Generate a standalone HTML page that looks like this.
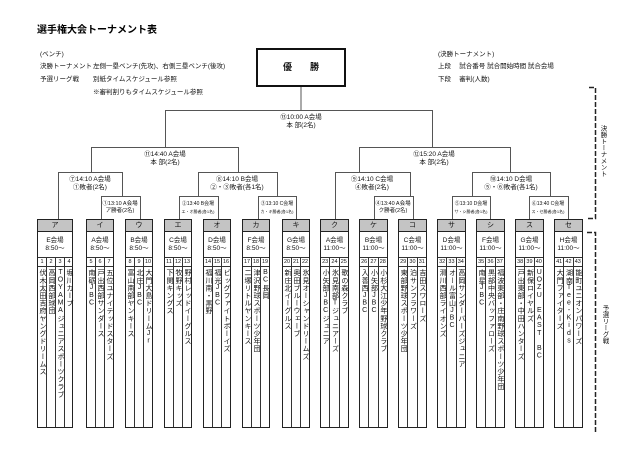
<!DOCTYPE html>
<html><head><meta charset="utf-8">
<style>
*{margin:0;padding:0;box-sizing:border-box}
body{width:640px;height:453px;background:#fff;position:relative;overflow:hidden;font-family:"Liberation Sans","Noto Sans CJK JP",sans-serif;color:#111}
.t{position:absolute;white-space:nowrap;line-height:1}
.lbl{position:absolute;text-align:center;line-height:8px;font-size:6.5px;white-space:nowrap;transform:translateX(-50%)}
.sl{position:absolute;text-align:center;white-space:nowrap;transform:translateX(-50%);line-height:7px}
.g{position:absolute;top:219px;height:209px;border:1.5px solid #222;background:#fff;display:flex;flex-direction:column}
.h{height:12px;background:#c4c4c4;border-bottom:1.5px solid #222;text-align:center;font-size:7px;line-height:11px}
.v{height:26px;border-bottom:1px solid #333;text-align:center;font-size:6.5px;line-height:8px;padding-top:5px}
.cols{flex:1;display:flex}
.c{flex:1;border-right:1px solid #333;display:flex;flex-direction:column;align-items:center}
.c:last-child{border-right:none}
.n{height:9px;width:100%;border-bottom:1px solid #333;text-align:center;font-size:5.5px;line-height:9px}
.nm{writing-mode:vertical-rl;text-orientation:upright;font-size:7px;line-height:8px;letter-spacing:0.6px;padding-top:2px}
</style></head><body>
<div class="t" style="left:37px;top:26px;font-size:10px;font-weight:bold;color:#000">選手権大会トーナメント表</div>
<div class="t" style="left:40px;top:52px;font-size:6.5px">(ベンチ)</div>
<div class="t" style="left:40px;top:64px;font-size:6.5px">決勝トーナメント</div>
<div class="t" style="left:93px;top:64px;font-size:6.5px">左側一塁ベンチ(先攻)、右側三塁ベンチ(後攻)</div>
<div class="t" style="left:40px;top:77px;font-size:6.5px">予選リーグ戦</div>
<div class="t" style="left:93px;top:77px;font-size:6.5px">別紙タイムスケジュール参照</div>
<div class="t" style="left:93px;top:90px;font-size:6.5px">※審判割りもタイムスケジュール参照</div>
<div class="t" style="left:438px;top:52px;font-size:6.5px">(決勝トーナメント)</div>
<div class="t" style="left:438px;top:64px;font-size:6.5px">上段　 試合番号 試合開始時間 試合会場</div>
<div class="t" style="left:438px;top:77px;font-size:6.5px">下段　 審判(人数)</div>

<div style="position:absolute;left:256px;top:48px;width:90px;height:39px;border:2px solid #111;text-align:center;font-size:9px;font-weight:bold;line-height:35px">優　　勝</div>

<svg width="640" height="453" style="position:absolute;left:0;top:0" fill="none" stroke="#555" stroke-width="1">
<path d="M301 87V110M165.5 147V110.5H432.5V147"/>
<path d="M91.5 172V147.5H238.5V172"/>
<path d="M58.5 219V172.5H122.5V196"/>
<path d="M101.5 219V196.5H140.5V219"/>
<path d="M198.5 196V172.5H277.5V196"/>
<path d="M179.5 219V196.5H218.5V219"/>
<path d="M258.5 219V196.5H296.5V219"/>
<path d="M359.5 172V147.5H510.5V172"/>
<path d="M335.5 219V172.5H410.5V196"/>
<path d="M374.5 219V196.5H413.5V219"/>
<path d="M472.5 196V172.5H550.5V196"/>
<path d="M452.5 219V196.5H490.5V219"/>
<path d="M529.5 219V196.5H568.5V219"/>
<path d="M589 87.5H595.5V218.5H586" stroke="#222" stroke-width="1.5" stroke-dasharray="5,2"/>
<path d="M587 232.5H595.5V432" stroke="#222" stroke-width="1.5" stroke-dasharray="5,2"/>
</svg>

<div class="lbl" style="left:301px;top:114px">⑬10:00 A会場<br>本 部(2名)</div>
<div class="lbl" style="left:165px;top:151px">⑪14:40 A会場<br>本 部(2名)</div>
<div class="lbl" style="left:434px;top:151px">⑫15:20 A会場<br>本 部(2名)</div>
<div class="lbl" style="left:90px;top:176px">⑦14:10 A会場<br>①敗者(2名)</div>
<div class="lbl" style="left:237px;top:176px">⑧14:10 B会場<br>②・③敗者(各1名)</div>
<div class="lbl" style="left:372px;top:176px">⑨14:10 C会場<br>④敗者(2名)</div>
<div class="lbl" style="left:511px;top:176px">⑩14:10 D会場<br>⑤・⑥敗者(各1名)</div>
<div class="sl" style="left:120px;top:201px;font-size:5.5px">①13:10 A会場<br>ア勝者(2名)</div>
<div class="sl" style="left:198px;top:201px;font-size:5px">②13:40 B会場<br><span style="font-size:4px">エ・オ勝者(各1名)</span></div>
<div class="sl" style="left:277px;top:201px;font-size:5px">③13:10 C会場<br><span style="font-size:4px">カ・キ勝者(各1名)</span></div>
<div class="sl" style="left:393px;top:201px;font-size:5.5px">④13:40 A会場<br>ク勝者(2名)</div>
<div class="sl" style="left:471px;top:201px;font-size:5px">⑤13:10 D会場<br><span style="font-size:4px">サ・シ勝者(各1名)</span></div>
<div class="sl" style="left:548px;top:201px;font-size:5px">⑥13:40 C会場<br><span style="font-size:4px">ス・セ勝者(各1名)</span></div>

<div class="t" style="left:598px;top:125px;font-size:6.5px;writing-mode:vertical-rl;line-height:8px">決勝トーナメント</div>
<div class="t" style="left:600px;top:305px;font-size:6.5px;writing-mode:vertical-rl;line-height:8px">予選リーグ戦</div>

<div class="g" style="left:37px;width:36px"><div class="h">ア</div><div class="v">E会場<br>8:50～</div><div class="cols">
<div class="c"><div class="n">1</div><div class="nm">伏木太田吉府ヤングドリームス</div></div>
<div class="c"><div class="n">2</div><div class="nm">高岡西部球団</div></div>
<div class="c"><div class="n">3</div><div class="nm">TOYAMAジュニアスポーツクラブ</div></div>
<div class="c"><div class="n">4</div><div class="nm">堀川カープ</div></div></div></div>

<div class="g" style="left:86px;width:28px"><div class="h">イ</div><div class="v">A会場<br>8:50～</div><div class="cols">
<div class="c"><div class="n">5</div><div class="nm">南砺JBC</div></div>
<div class="c"><div class="n">6</div><div class="nm">戸出西部サンダース</div></div>
<div class="c"><div class="n">7</div><div class="nm">五位ユナイテッドスターズ</div></div></div></div>

<div class="g" style="left:125px;width:28px"><div class="h">ウ</div><div class="v">B会場<br>8:50～</div><div class="cols">
<div class="c"><div class="n">8</div><div class="nm">富山南部ヤンキース</div></div>
<div class="c"><div class="n">9</div><div class="nm">北庄JBC</div></div>
<div class="c"><div class="n">10</div><div class="nm">大門大島ドリームJr</div></div></div></div>

<div class="g" style="left:164px;width:28px"><div class="h">エ</div><div class="v">C会場<br>8:50～</div><div class="cols">
<div class="c"><div class="n">11</div><div class="nm">下関キングス</div></div>
<div class="c"><div class="n">12</div><div class="nm">牧野キッズ</div></div>
<div class="c"><div class="n">13</div><div class="nm">野村レッドイーグルス</div></div></div></div>

<div class="g" style="left:203px;width:28px"><div class="h">オ</div><div class="v">D会場<br>8:50～</div><div class="cols">
<div class="c"><div class="n">14</div><div class="nm">福川南・黒野</div></div>
<div class="c"><div class="n">15</div><div class="nm">福光JBC</div></div>
<div class="c"><div class="n">16</div><div class="nm">ビッグファイトボーイズ</div></div></div></div>

<div class="g" style="left:242px;width:28px"><div class="h">カ</div><div class="v">F会場<br>8:50～</div><div class="cols">
<div class="c"><div class="n">17</div><div class="nm">二塚リトルヤンキース</div></div>
<div class="c"><div class="n">18</div><div class="nm">津沢野球スポーツ少年団</div></div>
<div class="c"><div class="n">19</div><div class="nm">BC長岡</div></div></div></div>

<div class="g" style="left:282px;width:28px"><div class="h">キ</div><div class="v">G会場<br>8:50～</div><div class="cols">
<div class="c"><div class="n">20</div><div class="nm">新庄北イーグルス</div></div>
<div class="c"><div class="n">21</div><div class="nm">奥田ブルーウェーブ</div></div>
<div class="c"><div class="n">22</div><div class="nm">氷見オーシャンドリームズ</div></div></div></div>

<div class="g" style="left:320px;width:29px"><div class="h">ク</div><div class="v">A会場<br>11:00～</div><div class="cols">
<div class="c"><div class="n">23</div><div class="nm">小矢部JBCジュニア</div></div>
<div class="c"><div class="n">24</div><div class="nm">氷見南部Tジュニアーズ</div></div>
<div class="c"><div class="n">25</div><div class="nm">歌の森クラブ</div></div></div></div>

<div class="g" style="left:359px;width:29px"><div class="h">ケ</div><div class="v">B会場<br>11:00～</div><div class="cols">
<div class="c"><div class="n">26</div><div class="nm">入善西JBC</div></div>
<div class="c"><div class="n">27</div><div class="nm">小矢部JBC</div></div>
<div class="c"><div class="n">28</div><div class="nm">小杉大江少年野球クラブ</div></div></div></div>

<div class="g" style="left:398px;width:29px"><div class="h">コ</div><div class="v">C会場<br>11:00～</div><div class="cols">
<div class="c"><div class="n">29</div><div class="nm">東部野球スポーツ少年団</div></div>
<div class="c"><div class="n">30</div><div class="nm">泊サンフラワーズ</div></div>
<div class="c"><div class="n">31</div><div class="nm">吉田スワローズ</div></div></div></div>

<div class="g" style="left:437px;width:29px"><div class="h">サ</div><div class="v">D会場<br>11:00～</div><div class="cols">
<div class="c"><div class="n">32</div><div class="nm">滑川西部ライオンズ</div></div>
<div class="c"><div class="n">33</div><div class="nm">オール富山JBC</div></div>
<div class="c"><div class="n">34</div><div class="nm">高岡サンダーバーズジュニア</div></div></div></div>

<div class="g" style="left:476px;width:29px"><div class="h">シ</div><div class="v">F会場<br>11:00～</div><div class="cols">
<div class="c"><div class="n">35</div><div class="nm">南星JBC</div></div>
<div class="c"><div class="n">36</div><div class="nm">黒部中央バッファローズ</div></div>
<div class="c"><div class="n">37</div><div class="nm">福波東部・庄南野球スポーツ少年団</div></div></div></div>

<div class="g" style="left:515px;width:29px"><div class="h">ス</div><div class="v">G会場<br>11:00～</div><div class="cols">
<div class="c"><div class="n">38</div><div class="nm">戸出東部・中田ハンターズ</div></div>
<div class="c"><div class="n">39</div><div class="nm">新保ロイヤルズ</div></div>
<div class="c"><div class="n">40</div><div class="nm">UOZU EAST BC</div></div></div></div>

<div class="g" style="left:554px;width:29px"><div class="h">セ</div><div class="v">H会場<br>11:00～</div><div class="cols">
<div class="c"><div class="n">41</div><div class="nm">大門ファイターズ</div></div>
<div class="c"><div class="n">42</div><div class="nm">湖南Tee-Kids</div></div>
<div class="c"><div class="n">43</div><div class="nm">能町ユニオンパワーズ</div></div></div></div>
</body></html>
